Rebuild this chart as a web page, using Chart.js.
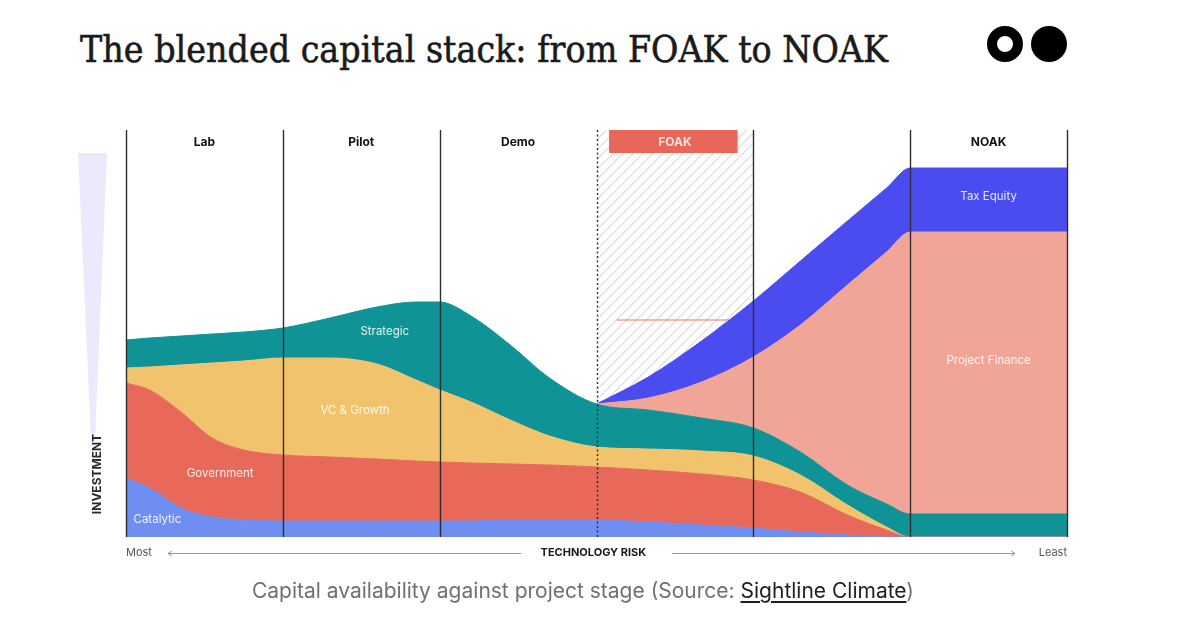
<!DOCTYPE html>
<html>
<head>
<meta charset="utf-8">
<script src="https://cdn.jsdelivr.net/npm/chart.js@4.4.1/dist/chart.umd.min.js"></script>
<style>
  body { margin: 0; background: #fff; }
  #wrap { position: relative; width: 1195px; height: 628px; overflow: hidden; }
  .title {
    position: absolute; left: 80px; top: 28px;
    font-family: "DejaVu Serif", serif;
    font-size: 37px; line-height: 44px; color: #1b1b1b; white-space: nowrap;
    -webkit-text-stroke: 0.6px #1b1b1b;
    transform-origin: 0 0;
  }
  .logo { position: absolute; left: 987px; top: 26px; }
  .logo span { position: absolute; top: 0; width: 36px; height: 36px; border-radius: 50%; box-sizing: border-box; }
  .logo .ring { left: 0; border: 10px solid #000; }
  .logo .dot { left: 44px; background: #000; }
  .caption {
    position: absolute; left: 0; width: 1166px; top: 578px; text-align: center;
    font-family: Inter, "Noto Sans", sans-serif; font-size: 21px; color: #707070;
  }
  .caption u { color: #1e1e1e; text-underline-offset: 3px; }
  canvas { position: absolute; left: 0; top: 0; }
</style>
</head>
<body>
<div id="wrap">
  <div class="title" id="title">The blended capital stack: from FOAK to NOAK</div>
  <div class="logo"><span class="ring"></span><span class="dot"></span></div>
  <canvas id="stackChart" width="1195" height="628"></canvas>
  <div class="caption">Capital availability against project stage (Source: <u>Sightline Climate</u>)</div>
</div>
<script>
// stage positions along the x axis (0 = start of Lab, 6 = end of NOAK)
var stageNames = ['Lab', 'Pilot', 'Demo', 'FOAK', '', 'NOAK'];
var xs = [0, 0.15, 0.35, 0.55, 0.75, 1, 1.3, 1.6, 1.85, 2, 2.2, 2.45, 2.7, 3, 3.33, 3.67, 4, 4.3, 4.6, 4.85, 5, 6];

// layer thickness at each x (stacked bottom to top)
var catalytic      = [59, 49, 29, 20, 17, 16, 16, 16, 16, 16, 16, 17, 17, 17, 15, 12, 9, 5, 2, 0, 0, 0];
var government     = [95, 98, 96, 79, 70, 66, 64, 62, 60, 59, 58, 56, 55, 53, 52, 51, 48, 40, 20, 7, 0, 0];
var vcGrowth       = [15, 23, 47, 75, 89, 97, 99, 95, 81, 72, 61, 44, 29, 20, 21, 23, 24, 17, 10, 3, 0, 0];
var strategic      = [28, 29, 29, 29, 29, 30, 40, 57, 78, 88, 86, 75, 58, 43, 39, 33, 28, 23, 20, 23, 23, 23];
var projectFinance = [null, null, null, null, null, null, null, null, null, null, null, null, null, 0, 12, 36, 71, 127, 200, 252, 282, 282];
var taxEquity      = [null, null, null, null, null, null, null, null, null, null, null, null, null, 0, 21, 41, 56, 64, 64, 64, 64, 64];

var yMax = 407;

function pts(values) {
    var out = [];
    values.forEach(function(v, i) {
        if (v !== null) out.push({ x: xs[i], y: v });
    });
    return out;
}

function layer(label, values, color, fill) {
    return {
        label: label,
        data: pts(values),
        backgroundColor: color,
        borderColor: color,
        borderWidth: 1,
        fill: fill
    };
}

// label spots in axis units
var areaLabels = [
    { text: 'Strategic', x: 1.65, y: 205 },
    { text: 'VC & Growth', x: 1.46, y: 126 },
    { text: 'Government', x: 0.6, y: 63 },
    { text: 'Catalytic', x: 0.2, y: 17 },
    { text: 'Tax Equity', x: 5.5, y: 340 },
    { text: 'Project Finance', x: 5.5, y: 176 }
];

function arrow(ctx, xa, xb, y) {
    ctx.beginPath();
    ctx.moveTo(xa, y); ctx.lineTo(xb, y);
    var d = xb > xa ? -4 : 4;
    ctx.moveTo(xb + d, y - 2.5); ctx.lineTo(xb, y); ctx.lineTo(xb + d, y + 2.5);
    ctx.stroke();
}

var overlay = {
    id: 'overlay',
    beforeDatasetsDraw: function(chart) {
        var ctx = chart.ctx, a = chart.chartArea, x = chart.scales.x, y = chart.scales.y;
        ctx.save();

        // investment wedge on the left
        ctx.fillStyle = '#ebeafc';
        ctx.beginPath();
        ctx.moveTo(78, 153); ctx.lineTo(107, 153); ctx.lineTo(95, 440); ctx.lineTo(91, 440);
        ctx.closePath(); ctx.fill();
        ctx.translate(97, 474);
        ctx.rotate(-Math.PI / 2);
        ctx.fillStyle = '#2a2a2a';
        ctx.font = 'bold 12px Inter, sans-serif';
        ctx.textAlign = 'center'; ctx.textBaseline = 'middle';
        ctx.fillText('INVESTMENT', 0, 0);
        ctx.setTransform(1, 0, 0, 1, 0, 0);

        // hatched FOAK column
        var x0 = x.getPixelForValue(3), x1 = x.getPixelForValue(4);
        var h = a.bottom - a.top;
        ctx.save();
        ctx.beginPath(); ctx.rect(x0, a.top, x1 - x0, h); ctx.clip();
        ctx.strokeStyle = '#c6c6c6'; ctx.lineWidth = 1;
        ctx.beginPath();
        for (var k = x0 - h; k < x1; k += 10) {
            ctx.moveTo(k, a.bottom); ctx.lineTo(k + h, a.top);
        }
        ctx.stroke();
        ctx.restore();

        // thin marker line inside FOAK
        ctx.strokeStyle = '#e8776a'; ctx.lineWidth = 1.2;
        ctx.beginPath();
        ctx.moveTo(x.getPixelForValue(3.13), y.getPixelForValue(217));
        ctx.lineTo(x.getPixelForValue(4), y.getPixelForValue(217));
        ctx.stroke();
        ctx.restore();
    },
    afterDatasetsDraw: function(chart) {
        var ctx = chart.ctx, a = chart.chartArea, x = chart.scales.x, y = chart.scales.y;
        ctx.save();

        // stage dividers
        for (var i = 0; i <= 6; i++) {
            var px = Math.round(x.getPixelForValue(i)) + 0.5;
            ctx.beginPath();
            ctx.strokeStyle = '#2e2e2e';
            ctx.lineWidth = 1.4;
            ctx.setLineDash(i === 3 ? [2, 2.5] : []);
            ctx.moveTo(px, a.top); ctx.lineTo(px, a.bottom);
            ctx.stroke();
        }
        ctx.setLineDash([]);

        // stage headers
        ctx.textAlign = 'center'; ctx.textBaseline = 'middle';
        stageNames.forEach(function(name, i) {
            if (!name) return;
            var cx = x.getPixelForValue(i + 0.5);
            if (name === 'FOAK') {
                ctx.fillStyle = '#e8675a';
                ctx.fillRect(x.getPixelForValue(3.08), a.top, x.getPixelForValue(3.9) - x.getPixelForValue(3.08), 23);
                ctx.fillStyle = '#fbe3df';
            } else {
                ctx.fillStyle = '#111';
            }
            ctx.font = 'bold 12px Inter, sans-serif';
            ctx.fillText(name, cx, a.top + 12);
        });

        // area labels
        ctx.font = '11.5px Inter, sans-serif';
        ctx.fillStyle = 'rgba(255,255,255,0.88)';
        areaLabels.forEach(function(l) {
            ctx.fillText(l.text, x.getPixelForValue(l.x), y.getPixelForValue(l.y));
        });

        // technology risk axis
        var by = a.bottom + 16;
        ctx.font = '11px Inter, sans-serif';
        ctx.fillStyle = '#555';
        ctx.textAlign = 'left';
        ctx.fillText('Most', a.left, by);
        ctx.textAlign = 'right';
        ctx.fillText('Least', a.right, by);
        ctx.textAlign = 'center';
        ctx.font = 'bold 11px Inter, sans-serif';
        ctx.fillStyle = '#1a1a1a';
        ctx.fillText('TECHNOLOGY RISK', x.getPixelForValue(2.98), by);
        ctx.strokeStyle = '#9a9a9a'; ctx.lineWidth = 1;
        arrow(ctx, 521, 168, by + 0.5);
        arrow(ctx, 672, 1015, by + 0.5);
        ctx.restore();
    }
};

var ctx = document.getElementById('stackChart').getContext('2d');
var stackChart = new Chart(ctx, {
    type: 'line',
    data: {
        datasets: [
            layer('Catalytic', catalytic, '#6e8ff1', 'origin'),
            layer('Government', government, '#e8685a', '-1'),
            layer('VC & Growth', vcGrowth, '#f2c36d', '-1'),
            layer('Strategic', strategic, '#0f9396', '-1'),
            layer('Project Finance', projectFinance, '#f0a596', '-1'),
            layer('Tax Equity', taxEquity, '#4b4cf0', '-1')
        ]
    },
    options: {
        responsive: false,
        animation: false,
        devicePixelRatio: 1,
        layout: { padding: { left: 126, top: 130, right: 128, bottom: 91 } },
        elements: {
            point: { radius: 0 },
            line: { cubicInterpolationMode: 'monotone' }
        },
        plugins: {
            legend: { display: false },
            tooltip: { enabled: false }
        },
        scales: {
            x: { type: 'linear', min: 0, max: 6, display: false },
            y: { stacked: true, min: 0, max: yMax, display: false }
        }
    },
    plugins: [overlay]
});

// squeeze the title to the width it has in the reference
var title = document.getElementById('title');
var w = title.getBoundingClientRect().width;
title.style.transform = 'scaleX(' + (808 / w) + ')';
</script>
</body>
</html>
